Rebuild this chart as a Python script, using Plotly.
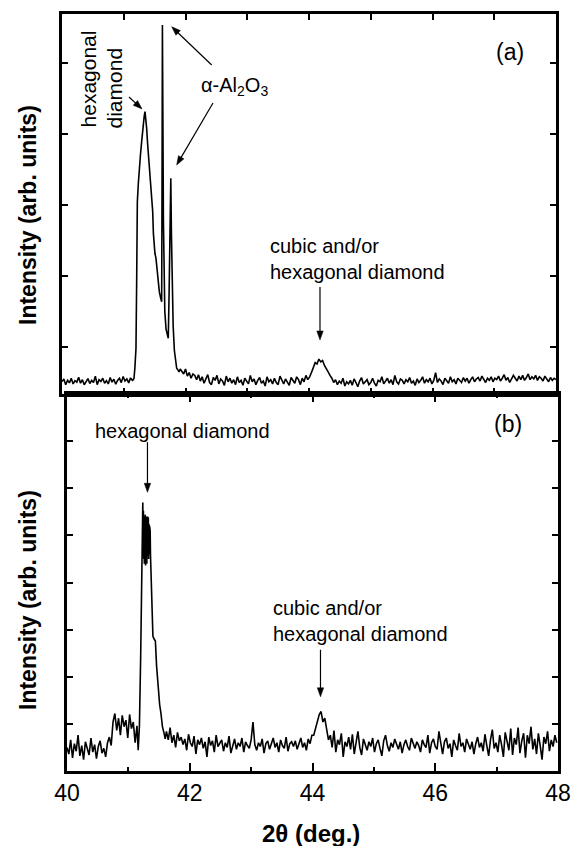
import plotly.graph_objects as go

# ---------------- data ----------------
# panel (a): baseline left of peaks, start 40.00, step 0.03
a_left_start, a_step = 40.00, 0.03
a_left_y = [512, 548, 470, 530, 495, 560, 480, 525, 505, 575,
            490, 540, 468, 520, 555, 485, 530, 500, 590, 470,
            540, 515, 560, 490, 525, 480, 570, 505, 545, 475,
            530, 560, 498, 585, 520, 550, 495, 565, 530]
# panel (a): peak region (hexagonal diamond + alpha-Al2O3 doublet)
a_pk_x = [41.155, 41.166, 41.18, 41.198, 41.209, 41.22, 41.236, 41.252, 41.27, 41.29,
          41.304, 41.317, 41.33, 41.344, 41.358, 41.371, 41.385, 41.398, 41.412, 41.425,
          41.441, 41.455, 41.469, 41.48, 41.49, 41.505, 41.522, 41.533, 41.544, 41.56,
          41.576, 41.595, 41.614, 41.62, 41.626, 41.634, 41.642, 41.652, 41.665, 41.685,
          41.705, 41.721, 41.735, 41.748, 41.762, 41.772, 41.785, 41.80, 41.82, 41.84,
          41.857, 41.875, 41.895, 41.915]
a_pk_y = [540, 559, 700, 981, 1920, 3047, 3300, 3563, 3700, 3892,
          4040, 4173, 4240, 4315, 4200, 4080, 3880, 3704, 3560, 3423,
          3235, 3100, 2906, 2600, 2390, 2320, 2249, 2150, 2014, 1900,
          1779, 1700, 1638, 3200, 5535, 4200, 2800, 2000, 1500, 1250,
          1150, 1122, 1800, 2900, 3376, 2600, 1800, 1300, 950, 760,
          700, 680, 650, 690]
# panel (a): baseline right of peaks, start 41.94, step 0.03
a_right_start = 41.94
a_right_y = [660, 620, 690, 590, 640, 560, 620, 600, 540, 610,
             520, 580, 490, 560, 610, 500, 470, 570, 530, 600,
             480, 550, 520, 460, 590, 510, 560, 490, 540, 470,
             580, 500, 530, 460, 560, 520, 480, 600, 510, 550,
             470, 530, 570, 490, 520, 450, 580, 510, 540, 480,
             560, 500, 470, 590, 520, 480, 550, 510, 460, 570,
             520, 490, 580, 540, 470, 560, 510, 600, 540, 580,
             640, 720, 780, 760, 830, 790, 810, 740, 700, 650,
             600, 560, 500, 540, 470, 520, 490, 560, 450, 510,
             480, 530, 460, 550, 500, 440, 520, 570, 480, 510,
             540, 470, 500, 560, 490, 450, 530, 510, 580, 480,
             520, 560, 490, 540, 470, 600, 510, 480, 550, 530,
             480, 540, 510, 570, 490, 520, 460, 550, 500, 530,
             580, 490, 540, 510, 560, 480, 530, 640, 500, 550,
             520, 470, 560, 530, 490, 580, 510, 540, 480, 560,
             530, 500, 570, 520, 560, 490, 540, 580, 510, 550,
             570, 520, 590, 540, 500, 560, 530, 580, 510, 560,
             540, 590, 520, 560, 610, 530, 570, 500, 550, 600,
             560, 520, 590, 540, 600, 530, 570, 620, 540, 580,
             550, 600, 530, 580, 560, 520, 590, 540, 510, 570,
             530, 560, 540]

# panel (b): baseline, start 40.00, step 0.03
b_step = 0.03
b_left_start = 40.00
b_left_y = [250, 180, 330, 140, 290, 210, 380, 160, 270, 120,
            310, 230, 170, 350, 200, 280, 130, 260, 320, 190,
            240, 150, 300, 360, 270]
# panel (b): shoulder, start 40.75
b_sh_start = 40.75
b_sh_y = [520, 610, 430, 560, 380, 590, 470, 540, 350, 600, 450, 520, 300, 480]
# panel (b): hexagonal diamond peak
b_pk_x = [41.16, 41.18, 41.20, 41.215, 41.225, 41.235,
          41.24, 41.245, 41.25, 41.255, 41.26, 41.265, 41.27, 41.275, 41.28, 41.285,
          41.29, 41.295, 41.30, 41.305, 41.31, 41.315, 41.32, 41.325, 41.33, 41.335,
          41.34, 41.345, 41.35, 41.355, 41.36, 41.366,
          41.38, 41.40, 41.42, 41.44, 41.46, 41.49, 41.51, 41.53, 41.555, 41.58, 41.60]
b_pk_y = [220, 480, 1200, 1900, 2500, 2850,
          2300, 2760, 2250, 2700, 2200, 2650, 2300, 2720, 2180, 2680,
          2250, 2700, 2200, 2660, 2260, 2700, 2300, 2690, 2250, 2620,
          2300, 2600, 2350, 2550, 2300, 2170,
          1606, 1430, 1400, 1380, 1110, 790, 700, 617, 471, 404, 340]
# panel (b): baseline right, start 41.62
b_right_start = 41.62
b_right_y = [420, 330, 460, 300, 380, 250, 410, 320, 360, 280,
             340, 220, 390, 300, 260, 370, 180, 330, 280, 350,
             240, 310, 150, 360, 270, 320, 200, 380, 260, 290,
             330, 210, 300, 250, 370, 190, 280, 340, 230, 300,
             260, 350, 200, 310, 270, 240, 330, 520, 280, 220,
             300, 260, 340, 190, 290, 320, 230, 280, 350, 250,
             300, 200, 330, 270, 240, 360, 210, 290, 310, 260,
             320, 230, 280, 350, 250, 300, 220, 340, 290, 380,
             380, 450, 530, 600, 631, 520, 560, 430, 330, 380,
             250, 430, 200, 330, 280, 400, 150, 310, 260, 360,
             230, 390, 180, 300, 420, 250, 170, 340, 280, 220,
             310, 260, 350, 200, 290, 330, 240, 160, 320, 380,
             270, 210, 300, 250, 340, 290, 230, 310, 190, 280,
             330, 260, 220, 350, 290, 240, 310, 270, 200, 330,
             280, 250, 380, 190, 300, 340, 260, 230, 420, 270,
             180, 310, 350, 240, 290, 150, 330, 270, 220, 400,
             260, 300, 200, 340, 280, 230, 310, 180, 290, 360,
             250, 300, 210, 390, 270, 160, 330, 440, 240, 300,
             200, 380, 280, 150, 410, 300, 220, 450, 170, 350,
             280, 460, 190, 320, 400, 140, 380, 290, 470, 230,
             340, 180, 400, 270, 120, 360, 290, 420, 210, 330,
             260, 380, 300]

x_tick_vals = [40, 42, 44, 46, 48]
x_tick_text = ["40", "42", "44", "46", "48"]
x_minor_vals = [41, 43, 45, 47]


def grid(start, step, vals, stop):
    xs, ys = [], []
    for i, v in enumerate(vals):
        xv = round(start + i * step, 4)
        if xv < stop:
            xs.append(xv)
            ys.append(v)
    return xs, ys


ax1, ay1 = grid(a_left_start, a_step, a_left_y, a_pk_x[0])
ax3, ay3 = grid(a_right_start, a_step, a_right_y, 48.001)
a_x = ax1 + a_pk_x + ax3
a_y = ay1 + a_pk_y + ay3

bx1, by1 = grid(b_left_start, b_step, b_left_y, b_sh_start)
bx2, by2 = grid(b_sh_start, b_step, b_sh_y, b_pk_x[0])
bx4, by4 = grid(b_right_start, b_step, b_right_y, 48.001)
b_x = bx1 + bx2 + b_pk_x + bx4
b_y = by1 + by2 + b_pk_y + by4

FONT = "Liberation Sans, Arial, Helvetica, sans-serif"
W, H = 574, 846

# panel geometry (pixels)
A_L, A_R, A_T, A_B = 62, 556, 14, 394
A_Y0, A_Y1 = 338, 5690
B_L, B_R, B_T, B_B = 67, 558, 394, 771
B_Y0, B_Y1 = 0, 4000

fig = go.Figure()
fig.add_trace(go.Scatter(x=a_x, y=a_y, xaxis="x2", yaxis="y2", mode="lines",
                         line=dict(color="black", width=1.6), hoverinfo="skip"))
fig.add_trace(go.Scatter(x=b_x, y=b_y, xaxis="x", yaxis="y", mode="lines",
                         line=dict(color="black", width=1.6), hoverinfo="skip"))

axis_common = dict(showline=True, linecolor="black", linewidth=2.5, mirror="ticks",
                   ticks="inside", tickcolor="black", tickwidth=2, showgrid=False,
                   zeroline=False, automargin=False)

fig.update_layout(
    width=W, height=H, margin=dict(l=0, r=0, t=0, b=0),
    paper_bgcolor="white", plot_bgcolor="white", showlegend=False,
    font=dict(family=FONT, color="black"),
    xaxis=dict(domain=[B_L / W, B_R / W], anchor="y", range=[40, 48],
               tickvals=x_tick_vals, ticktext=x_tick_text, ticklen=8,
               tickfont=dict(size=23, family=FONT),
               minor=dict(tickvals=x_minor_vals, ticks="inside", ticklen=4,
                          tickwidth=2, tickcolor="black"),
               **axis_common),
    yaxis=dict(domain=[(H - B_B) / H, (H - B_T) / H], anchor="x", range=[B_Y0, B_Y1],
               tick0=0, dtick=500, ticklen=6, showticklabels=False, **axis_common),
    xaxis2=dict(domain=[A_L / W, A_R / W], anchor="y2", range=[40, 48],
                tick0=40, dtick=1, ticklen=6, showticklabels=False, **axis_common),
    yaxis2=dict(domain=[(H - A_B) / H, (H - A_T) / H], anchor="x2", range=[A_Y0, A_Y1],
                tick0=1000, dtick=1000, ticklen=6, showticklabels=False, **axis_common),
)


def to_px(x, v, panel):
    if panel == "a":
        return (A_L + (x - 40) / 8 * (A_R - A_L),
                A_B - (v - A_Y0) / (A_Y1 - A_Y0) * (A_B - A_T))
    return (B_L + (x - 40) / 8 * (B_R - B_L),
            B_B - (v - B_Y0) / (B_Y1 - B_Y0) * (B_B - B_T))


ann = []
shapes = []
TF = dict(family=FONT, size=20, color="black")


def text(x, y, t, xr, yr, **kw):
    d = dict(x=x, y=y, text=t, xref=xr, yref=yr, showarrow=False, font=TF,
             xanchor="center", yanchor="middle")
    d.update(kw)
    ann.append(d)


def arrow(xh, vh, xt, vt, panel, head_len=9.0, head_half=3.2):
    hx, hy = to_px(xh, vh, panel)
    tx, ty = to_px(xt, vt, panel)
    dx, dy = hx - tx, hy - ty
    n = (dx * dx + dy * dy) ** 0.5
    ux, uy = dx / n, dy / n
    bx, by = hx - ux * head_len, hy - uy * head_len
    px_, py_ = -uy, ux
    p1 = (bx + px_ * head_half, by + py_ * head_half)
    p2 = (bx - px_ * head_half, by - py_ * head_half)

    def P(pt):
        return pt[0] / W, (H - pt[1]) / H

    t0, b0 = P((tx, ty)), P((bx + ux, by + uy))
    shapes.append(dict(type="line", xref="paper", yref="paper",
                       x0=t0[0], y0=t0[1], x1=b0[0], y1=b0[1],
                       line=dict(color="black", width=1.2)))
    h, a, b = P((hx, hy)), P(p1), P(p2)
    shapes.append(dict(type="path", xref="paper", yref="paper",
                       path=f"M {h[0]},{h[1]} L {a[0]},{a[1]} L {b[0]},{b[1]} Z",
                       fillcolor="black", line=dict(color="black", width=0.5)))


RF = dict(family=FONT, size=21, color="black")

# panel (a)
text(47.255, 5155, "(a)", "x2", "y2", font=dict(family=FONT, size=23, color="black"))
text(40.429, 4775, "hexagonal", "x2", "y2", textangle=-90, font=RF)
text(40.858, 4655, "diamond", "x2", "y2", textangle=-90, font=RF)
arrow(41.296, 4352, 41.085, 4521, "a")
text(42.80, 4662, "α-Al<sub>2</sub>O<sub>3</sub>", "x2", "y2")
arrow(41.776, 5511, 42.424, 4972, "a")
arrow(41.857, 3563, 42.445, 4437, "a")
text(43.336, 2239, "cubic and/or<br>hexagonal diamond", "x2", "y2",
     xanchor="left", align="left")
arrow(44.178, 1099, 44.178, 1845, "a")

# panel (b)
text(47.18, 3681, "(b)", "x", "y", font=dict(family=FONT, size=23, color="black"))
text(41.883, 3606, "hexagonal diamond", "x", "y")
arrow(41.311, 2957, 41.311, 3489, "b")
text(43.317, 1596, "cubic and/or<br>hexagonal diamond", "x", "y",
     xanchor="left", align="left")
arrow(44.13, 787, 44.13, 1287, "b")

# axis titles
BF = dict(family=FONT, size=23, color="black")
text(28 / W, (H - 215) / H, "<b>Intensity (arb. units)</b>", "paper", "paper",
     textangle=-90, font=BF)
text(28 / W, (H - 600) / H, "<b>Intensity (arb. units)</b>", "paper", "paper",
     textangle=-90, font=BF)
text(311 / W, (H - 833) / H, "<b>2θ (deg.)</b>", "paper", "paper",
     font=dict(family=FONT, size=24, color="black"))

fig.update_layout(annotations=ann, shapes=shapes)
fig.write_html("out.html", config={"displayModeBar": False},
               post_script="document.body.style.margin='0px';"
                           "document.body.style.padding='0px';")
